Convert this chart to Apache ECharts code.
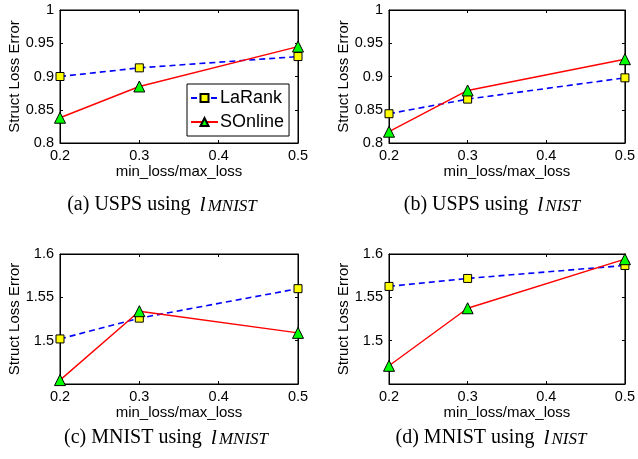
<!DOCTYPE html>
<html><head><meta charset="utf-8">
<script src="https://cdn.jsdelivr.net/npm/echarts@6/dist/echarts.min.js"></script>
<style>html,body{margin:0;padding:0;background:#fff}#c{width:638px;height:459px}</style>
</head><body><div id="c"></div>
<script>
const xs = [0.2, 0.3, 0.5];
const xTicks = [0.2, 0.3, 0.4, 0.5];
const seriesNames = ['LaRank', 'SOnline'];
const laRankA = [0.900, 0.913, 0.930];
const sOnlineA = [0.838, 0.885, 0.945];
const laRankB = [0.844, 0.866, 0.898];
const sOnlineB = [0.817, 0.879, 0.926];
const laRankC = [1.502, 1.526, 1.560];
const sOnlineC = [1.4545, 1.534, 1.509];
const laRankD = [1.5626, 1.5718, 1.5868];
const sOnlineD = [1.471, 1.5374, 1.594];
const yTicksTop = [0.8, 0.85, 0.9, 0.95, 1];
const yTicksBottom = [1.5, 1.55, 1.6];
const captions = [
  ['(a) USPS using ', 'l', 'MNIST'],
  ['(b) USPS using ', 'l', 'NIST'],
  ['(c) MNIST using ', 'l', 'MNIST'],
  ['(d) MNIST using ', 'l', 'NIST']
];
const xName = 'min_loss/max_loss';
const yName = 'Struct Loss Error';

const panels = [
  {grid:{left:60, top:10, width:238, height:133}, y:[0.8,1], la:laRankA, so:sOnlineA, yt:yTicksTop},
  {grid:{left:389, top:10, width:238, height:133}, y:[0.8,1], la:laRankB, so:sOnlineB, yt:yTicksTop},
  {grid:{left:60, top:254, width:238, height:130}, y:[1.45,1.6], la:laRankC, so:sOnlineC, yt:yTicksBottom},
  {grid:{left:389, top:254, width:238, height:130}, y:[1.45,1.6], la:laRankD, so:sOnlineD, yt:yTicksBottom}
];
const capPos = [[162,205],[492,205],[166,438],[491,438]];

const FONT = 'Liberation Sans';
const grids = [], xAxes = [], yAxes = [], series = [];
panels.forEach((p, i) => {
  grids.push(Object.assign({show:true, borderColor:'#000', borderWidth:1, backgroundColor:'#fff'}, p.grid));
  const xFmt = v => {
    const r = Math.round(v*10)/10;
    return xTicks.indexOf(r) >= 0 ? String(r) : '';
  };
  const yFmt = v => {
    const r = Math.round(v*100)/100;
    return p.yt.indexOf(r) >= 0 ? String(r) : '';
  };
  xAxes.push({type:'value', gridIndex:i, min:0.2, max:0.5, interval:0.1, position:'bottom',
    name:xName, nameLocation:'middle', nameGap:20,
    nameTextStyle:{fontFamily:FONT, fontSize:15, color:'#000'},
    axisLine:{show:true, onZero:false, lineStyle:{color:'#000', width:1}},
    axisTick:{show:true, inside:true, length:3, lineStyle:{color:'#000'}},
    axisLabel:{fontFamily:FONT, fontSize:14.5, color:'#000', margin:5, formatter:xFmt},
    splitLine:{show:false}});
  xAxes.push({type:'value', gridIndex:i, min:0.2, max:0.5, interval:0.1, position:'top',
    axisLine:{show:true, onZero:false, lineStyle:{color:'#000', width:1}},
    axisTick:{show:true, inside:true, length:3, lineStyle:{color:'#000'}},
    axisLabel:{show:false}, splitLine:{show:false}});
  yAxes.push({type:'value', gridIndex:i, min:p.y[0], max:p.y[1], interval:0.05, position:'left',
    name:yName, nameLocation:'middle', nameGap:38,
    nameTextStyle:{fontFamily:FONT, fontSize:15, color:'#000'},
    axisLine:{show:true, onZero:false, lineStyle:{color:'#000', width:1}},
    axisTick:{show:true, inside:true, length:3, lineStyle:{color:'#000'}},
    axisLabel:{fontFamily:FONT, fontSize:14.5, color:'#000', margin:6, formatter:yFmt},
    splitLine:{show:false}});
  yAxes.push({type:'value', gridIndex:i, min:p.y[0], max:p.y[1], interval:0.05, position:'right',
    axisLine:{show:true, onZero:false, lineStyle:{color:'#000', width:1}},
    axisTick:{show:true, inside:true, length:3, lineStyle:{color:'#000'}},
    axisLabel:{show:false}, splitLine:{show:false}});
  series.push({name:seriesNames[0], type:'line', xAxisIndex:2*i, yAxisIndex:2*i,
    data: xs.map((x,k)=>[x, p.la[k]]), clip:false, animation:false,
    symbol:'rect', symbolSize:8,
    lineStyle:{color:'#0000ff', width:1.6, type:[6,4]},
    itemStyle:{color:'#ffff00', borderColor:'#000', borderWidth:1}, z:2});
  series.push({name:seriesNames[1], type:'line', xAxisIndex:2*i, yAxisIndex:2*i,
    data: xs.map((x,k)=>[x, p.so[k]]), clip:false, animation:false,
    symbol:'triangle', symbolSize:11,
    lineStyle:{color:'#ff0000', width:1.4, type:'solid'},
    itemStyle:{color:'#00ff00', borderColor:'#000', borderWidth:1}, z:3});
});

const graphic = captions.map((c, i) => ({
  type:'text', x:capPos[i][0], y:capPos[i][1],
  style:{
    text:'{a|' + c[0] + '}{l|' + c[1] + '}{s|' + c[2] + '}',
    align:'center', verticalAlign:'middle',
    rich:{
      a:{fontFamily:'Liberation Serif', fontSize:20, color:'#1a1a1a'},
      l:{fontFamily:'Liberation Serif', fontStyle:'italic', fontSize:22, color:'#1a1a1a', padding:[0,0,0,4]},
      s:{fontFamily:'Liberation Serif', fontStyle:'italic', fontSize:17, color:'#1a1a1a', padding:[3,0,0,2]}
    }
  }
}));

const chart = echarts.init(document.getElementById('c'), null, {renderer:'canvas'});
chart.setOption({
  animation:false,
  backgroundColor:'#fff',
  grid: grids, xAxis: xAxes, yAxis: yAxes, series: series,
  legend:{data:seriesNames, orient:'vertical', left:187, top:84,
    backgroundColor:'#fff', borderColor:'#000', borderWidth:1, borderRadius:0,
    padding:[5,5,5,3], itemGap:6, itemWidth:27, itemHeight:10,
    textStyle:{fontFamily:FONT, fontSize:18, color:'#000', padding:[0,0,0,-3]}},
  graphic: graphic
});
</script></body></html>
